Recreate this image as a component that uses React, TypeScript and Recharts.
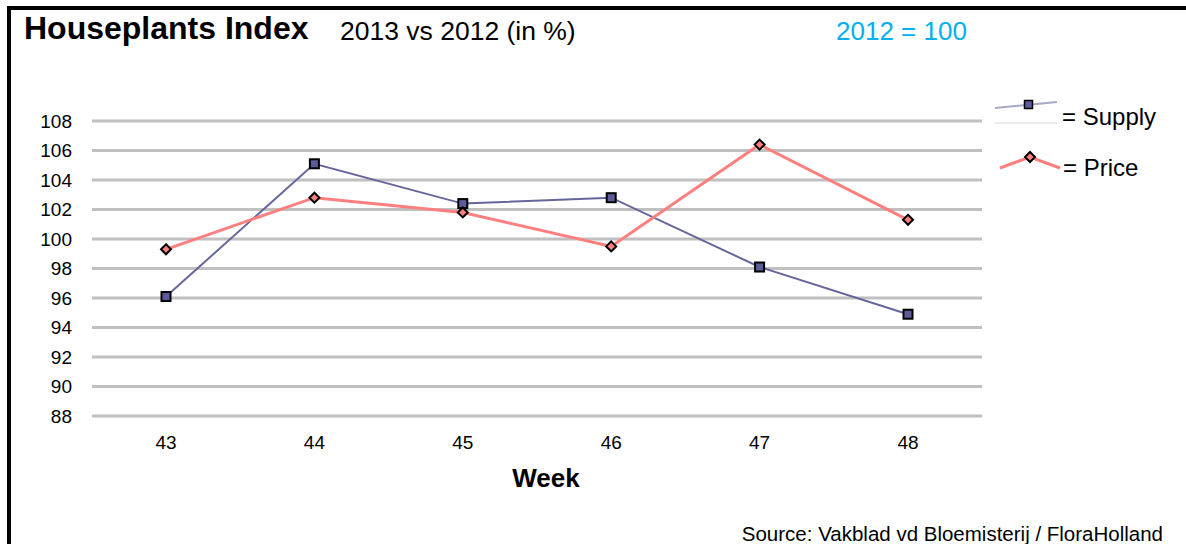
import React from 'react';
import { LineChart, Line, XAxis, YAxis, CartesianGrid } from 'recharts';

const weeks = ['43', '44', '45', '46', '47', '48'];
const supply = [96.1, 105.1, 102.4, 102.8, 98.1, 94.9];
const price = [99.3, 102.8, 101.8, 99.5, 106.4, 101.3];
const yTicks = [88, 90, 92, 94, 96, 98, 100, 102, 104, 106, 108];

const data = weeks.map((w, i) => ({ week: w, supply: supply[i], price: price[i] }));

const FONT = '"Liberation Sans", Arial, sans-serif';
const SUPPLY_COLOR = '#66669c';
const PRICE_COLOR = '#ff7f7f';

const SquareDot = (props: any) => {
  const { cx, cy } = props;
  if (cx == null || cy == null) return null;
  return <rect x={cx - 4.5} y={cy - 4.5} width={9} height={9} fill="#5c5c9a" stroke="#000" strokeWidth={2} />;
};

const DiamondDot = (props: any) => {
  const { cx, cy } = props;
  if (cx == null || cy == null) return null;
  return (
    <path
      d={`M${cx},${cy - 5} L${cx + 5},${cy} L${cx},${cy + 5} L${cx - 5},${cy} Z`}
      fill={PRICE_COLOR}
      stroke="#000"
      strokeWidth={2}
    />
  );
};

// legend drawn by hand, placed at the right of the plot
const LegendBox = () => (
  <g transform="translate(995,98)">
    <line x1={0} y1={10} x2={62} y2={4} stroke="#a8a8c8" strokeWidth={2} />
    <line x1={0} y1={25} x2={62} y2={25} stroke="#d8d8d8" strokeWidth={1} />
    <rect x={29.5} y={2.5} width={8} height={8} fill="#5c5c9a" stroke="#000" strokeWidth={1.5} />
    <text x={67} y={27} fontSize={24} fill="#000">= Supply</text>
    <polyline points="5,70 35,59 65,70" fill="none" stroke={PRICE_COLOR} strokeWidth={3} />
    <path d="M35,54 L40,59 L35,64 L30,59 Z" fill={PRICE_COLOR} stroke="#000" strokeWidth={2} />
    <text x={68} y={78} fontSize={24} fill="#000">= Price</text>
  </g>
);

export default function App() {
  return (
    <div style={{ position: 'absolute', left: 0, top: 0, width: 1186, height: 544, background: '#fff', fontFamily: FONT }}>
      <LineChart
        width={1186}
        height={544}
        data={data}
        margin={{ top: 121, right: 204, left: 0, bottom: 98 }}
        style={{ fontFamily: FONT }}
      >
        <CartesianGrid vertical={false} stroke="#c0c0c0" strokeWidth={3} />
        <XAxis
          dataKey="week"
          height={30}
          axisLine={false}
          tickLine={false}
          tickSize={0}
          tickMargin={20}
          padding={{ left: 74, right: 74 }}
          tick={{ fill: '#000', fontSize: 19 }}
        />
        <YAxis
          width={92}
          domain={[88, 108]}
          ticks={yTicks}
          interval={0}
          axisLine={false}
          tickLine={false}
          tickSize={0}
          tickMargin={20}
          tick={{ fill: '#000', fontSize: 19 }}
        />
        <Line
          dataKey="supply"
          stroke={SUPPLY_COLOR}
          strokeWidth={2}
          dot={<SquareDot />}
          activeDot={false}
          isAnimationActive={false}
        />
        <Line
          dataKey="price"
          stroke={PRICE_COLOR}
          strokeWidth={3}
          dot={<DiamondDot />}
          activeDot={false}
          isAnimationActive={false}
        />
      </LineChart>
      <svg width={1186} height={544} style={{ position: 'absolute', left: 0, top: 0, pointerEvents: 'none', fontFamily: FONT }}>
        <line x1={7} y1={8} x2={1186} y2={8} stroke="#000" strokeWidth={4} />
        <line x1={9} y1={6} x2={9} y2={544} stroke="#000" strokeWidth={4} />
        <text x={24} y={39} fontSize={32} fontWeight="bold" fill="#000">Houseplants Index</text>
        <text x={340} y={40} fontSize={26.5} fill="#000">2013 vs 2012 (in %)</text>
        <text x={836} y={40} fontSize={26} fill="#00b0f0">2012 = 100</text>
        <text x={546} y={487} fontSize={26} fontWeight="bold" fill="#000" textAnchor="middle">Week</text>
        <text x={1163} y={541} fontSize={20.5} fill="#000" textAnchor="end">Source: Vakblad vd Bloemisterij / FloraHolland</text>
        <LegendBox />
      </svg>
    </div>
  );
}
